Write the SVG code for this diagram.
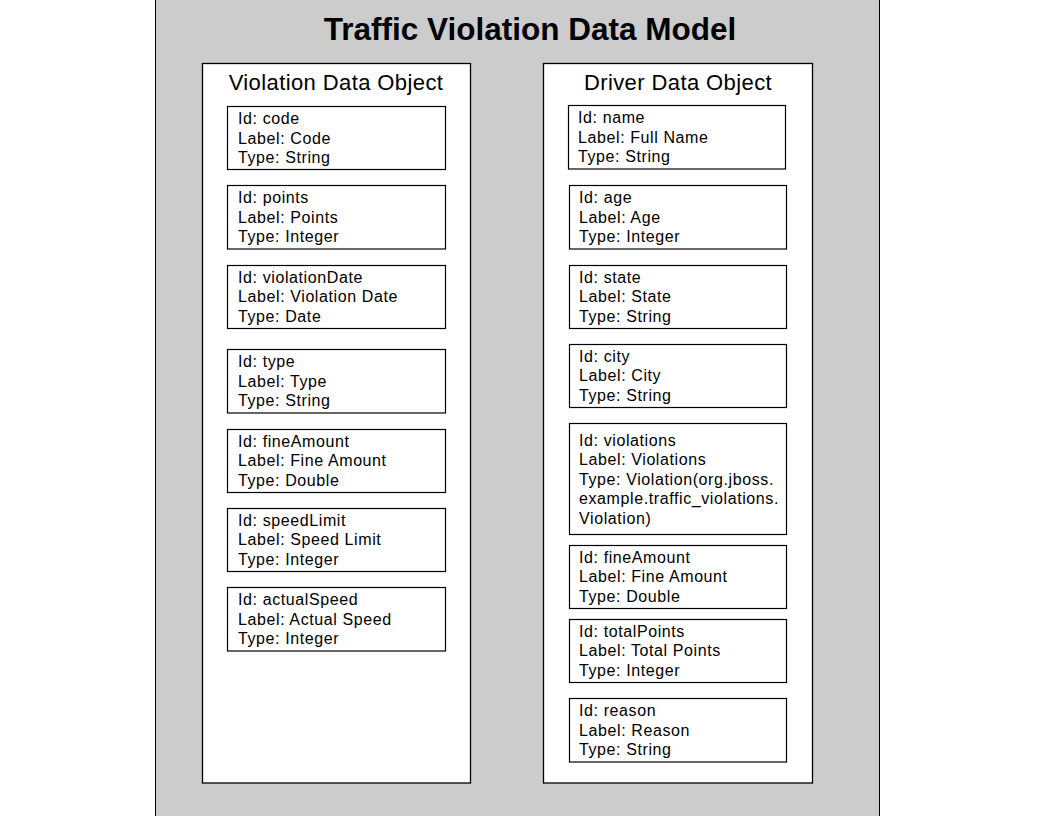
<svg xmlns="http://www.w3.org/2000/svg" width="1056" height="816" viewBox="0 0 1056 816">
<style>
.bg{fill:#cccccc;stroke:#000;stroke-width:1}
.panel{fill:#fff;stroke:#000;stroke-width:1.3}
.field{fill:#fff;stroke:#000;stroke-width:1.2}
.title{font-family:"Liberation Sans",Arial,sans-serif;font-weight:bold;font-size:31.5px;fill:#000}
.ptitle{font-family:"Liberation Sans",Arial,sans-serif;font-size:22px;letter-spacing:0.4px;fill:#000}
.ft{font-family:"Liberation Sans",Arial,sans-serif;font-size:16px;letter-spacing:0.6px;fill:#000}
</style>
<rect width="1056" height="816" fill="#fff"/>
<rect class="bg" x="155.5" y="-10" width="724" height="840"/>
<text class="title" x="530" y="40" text-anchor="middle">Traffic Violation Data Model</text>

<g id="violation-object">
<rect class="panel" x="202.5" y="63.5" width="268" height="719.5"/>
<text class="ptitle" x="336" y="90" text-anchor="middle">Violation Data Object</text>
</g>
<g id="v-code">
<rect class="field" x="227.5" y="106.5" width="218" height="63"/>
<text class="ft" x="238" y="123.5">Id: code</text>
<text class="ft" x="238" y="143.5">Label: Code</text>
<text class="ft" x="238" y="162.5">Type: String</text>
</g>
<g id="v-points">
<rect class="field" x="227.5" y="185.5" width="218" height="63.5"/>
<text class="ft" x="238" y="202.5">Id: points</text>
<text class="ft" x="238" y="222.5">Label: Points</text>
<text class="ft" x="238" y="242">Type: Integer</text>
</g>
<g id="v-violationDate">
<rect class="field" x="227.5" y="265.5" width="218" height="63"/>
<text class="ft" x="238" y="282.5">Id: violationDate</text>
<text class="ft" x="238" y="302">Label: Violation Date</text>
<text class="ft" x="238" y="321.5">Type: Date</text>
</g>
<g id="v-type">
<rect class="field" x="227.5" y="349.5" width="218" height="63.5"/>
<text class="ft" x="238" y="366.5">Id: type</text>
<text class="ft" x="238" y="386.5">Label: Type</text>
<text class="ft" x="238" y="406">Type: String</text>
</g>
<g id="v-fineAmount">
<rect class="field" x="227.5" y="429.5" width="218" height="63"/>
<text class="ft" x="238" y="446.5">Id: fineAmount</text>
<text class="ft" x="238" y="466">Label: Fine Amount</text>
<text class="ft" x="238" y="485.5">Type: Double</text>
</g>
<g id="v-speedLimit">
<rect class="field" x="227.5" y="508.5" width="218" height="63"/>
<text class="ft" x="238" y="525.5">Id: speedLimit</text>
<text class="ft" x="238" y="545">Label: Speed Limit</text>
<text class="ft" x="238" y="564.5">Type: Integer</text>
</g>
<g id="v-actualSpeed">
<rect class="field" x="227.5" y="587.5" width="218" height="63.5"/>
<text class="ft" x="238" y="604.5">Id: actualSpeed</text>
<text class="ft" x="238" y="624.5">Label: Actual Speed</text>
<text class="ft" x="238" y="644">Type: Integer</text>
</g>

<g id="driver-object">
<rect class="panel" x="543.5" y="63.5" width="269" height="719.5"/>
<text class="ptitle" x="678" y="90" text-anchor="middle">Driver Data Object</text>
</g>
<g id="d-name">
<rect class="field" x="568.5" y="105.5" width="217" height="63.5"/>
<text class="ft" x="578" y="122.5">Id: name</text>
<text class="ft" x="578" y="142.5">Label: Full Name</text>
<text class="ft" x="578" y="162">Type: String</text>
</g>
<g id="d-age">
<rect class="field" x="569.5" y="185.5" width="217" height="63.5"/>
<text class="ft" x="579" y="202.5">Id: age</text>
<text class="ft" x="579" y="222.5">Label: Age</text>
<text class="ft" x="579" y="242">Type: Integer</text>
</g>
<g id="d-state">
<rect class="field" x="569.5" y="265.5" width="217" height="63"/>
<text class="ft" x="579" y="282.5">Id: state</text>
<text class="ft" x="579" y="302">Label: State</text>
<text class="ft" x="579" y="321.5">Type: String</text>
</g>
<g id="d-city">
<rect class="field" x="569.5" y="344.5" width="217" height="63"/>
<text class="ft" x="579" y="361.5">Id: city</text>
<text class="ft" x="579" y="381">Label: City</text>
<text class="ft" x="579" y="400.5">Type: String</text>
</g>
<g id="d-violations">
<rect class="field" x="569.5" y="423.5" width="217" height="111"/>
<text class="ft" x="579" y="445.5">Id: violations</text>
<text class="ft" x="579" y="465">Label: Violations</text>
<text class="ft" x="579" y="484.5">Type: Violation(org.jboss.</text>
<text class="ft" x="579" y="504">example.traffic_violations.</text>
<text class="ft" x="579" y="523.5">Violation)</text>
</g>
<g id="d-fineAmount">
<rect class="field" x="569.5" y="545.5" width="217" height="63"/>
<text class="ft" x="579" y="562.5">Id: fineAmount</text>
<text class="ft" x="579" y="582">Label: Fine Amount</text>
<text class="ft" x="579" y="601.5">Type: Double</text>
</g>
<g id="d-totalPoints">
<rect class="field" x="569.5" y="619.5" width="217" height="63"/>
<text class="ft" x="579" y="636.5">Id: totalPoints</text>
<text class="ft" x="579" y="656">Label: Total Points</text>
<text class="ft" x="579" y="675.5">Type: Integer</text>
</g>
<g id="d-reason">
<rect class="field" x="569.5" y="698.5" width="217" height="63.5"/>
<text class="ft" x="579" y="715.5">Id: reason</text>
<text class="ft" x="579" y="735.5">Label: Reason</text>
<text class="ft" x="579" y="755">Type: String</text>
</g>
<g id="connectors"></g>
</svg>
